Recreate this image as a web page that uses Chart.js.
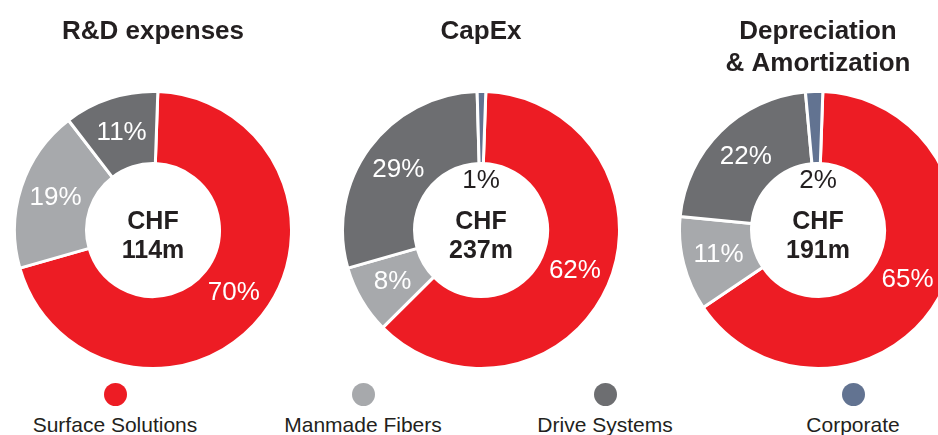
<!DOCTYPE html>
<html>
<head>
<meta charset="utf-8">
<script src="https://cdn.jsdelivr.net/npm/chart.js@4.4.1/dist/chart.umd.min.js"></script>
<style>
  html, body { margin: 0; padding: 0; background: #fff; }
  body {
    width: 938px; height: 435px; position: relative; overflow: hidden;
    font-family: "Liberation Sans", Arial, sans-serif;
  }
  .box { position: absolute; top: 0; width: 280px; height: 370px; }
  .box canvas { display: block; }
  .leg {
    position: absolute; top: 383px; width: 240px; margin-left: -120px;
    text-align: center; color: #231F20; font-size: 21px;
  }
  .leg .dot { width: 23px; height: 23px; border-radius: 50%; margin: 0 auto; }
  .leg .txt { margin-top: 7px; line-height: 24px; white-space: nowrap; }
</style>
</head>
<body>
<div class="box" style="left:13px"><canvas id="rdChart" width="280" height="370"></canvas></div>
<div class="box" style="left:341px"><canvas id="capexChart" width="280" height="370"></canvas></div>
<div class="box" style="left:678px"><canvas id="daChart" width="280" height="370"></canvas></div>
<div id="legend"></div>

<script>
// data
const categories = ["Surface Solutions", "Manmade Fibers", "Drive Systems", "Corporate"];
const colors = ["#ED1C24", "#A7A9AC", "#6D6E71", "#627391"];

const rdValues = [70, 19, 11, 0];
const capexValues = [62, 8, 29, 1];
const daValues = [65, 11, 22, 2];

const rdTitle = ["R&D expenses"];
const capexTitle = ["CapEx"];
const daTitle = ["Depreciation", "& Amortization"];

const rdTotal = ["CHF", "114m"];
const capexTotal = ["CHF", "237m"];
const daTotal = ["CHF", "191m"];

// legend x centres (layout)
const legendX = [115, 363, 605, 853];

const FONT = "'Liberation Sans', Arial, sans-serif";
const DARK = "#231F20";

// percent labels on the slices + total in the hole
const sliceLabels = {
  id: "sliceLabels",
  afterDatasetsDraw(chart, args, opts) {
    const ctx = chart.ctx;
    const meta = chart.getDatasetMeta(0);
    const values = chart.data.datasets[0].data;
    const first = meta.data[0];
    ctx.save();
    ctx.textAlign = "center";
    ctx.textBaseline = "middle";
    ctx.font = "26px " + FONT;
    meta.data.forEach((arc, i) => {
      const v = values[i];
      if (!v) return;
      if (v < 5) {
        // small slice: label sits inside the hole
        ctx.fillStyle = DARK;
        ctx.fillText(v + "%", arc.x, arc.y - 49);
      } else {
        const p = arc.tooltipPosition();
        ctx.fillStyle = "#FFFFFF";
        ctx.fillText(v + "%", p.x, p.y);
      }
    });
    ctx.font = "bold 25px " + FONT;
    ctx.fillStyle = DARK;
    ctx.fillText(opts.lines[0], first.x, first.y - 8);
    ctx.fillText(opts.lines[1], first.x, first.y + 21);
    ctx.restore();
  },
};

function makeDoughnut(id, values, title, total, titleBottom) {
  return new Chart(document.getElementById(id), {
    type: "doughnut",
    data: {
      labels: categories,
      datasets: [
        {
          data: values,
          backgroundColor: colors,
          borderColor: "#FFFFFF",
          borderWidth: 3,
          hoverOffset: 0,
        },
      ],
    },
    options: {
      responsive: false,
      animation: false,
      events: [],
      rotation: 2,
      cutout: "48%",
      plugins: {
        legend: { display: false },
        tooltip: { enabled: false },
        title: {
          display: true,
          text: title,
          color: DARK,
          font: { family: FONT, size: 26, weight: "bold", lineHeight: "32px" },
          padding: { top: 16, bottom: titleBottom },
        },
        sliceLabels: { lines: total },
      },
    },
    plugins: [sliceLabels],
  });
}

makeDoughnut("rdChart", rdValues, rdTitle, rdTotal, 42);
makeDoughnut("capexChart", capexValues, capexTitle, capexTotal, 42);
makeDoughnut("daChart", daValues, daTitle, daTotal, 10);

// legend below the charts
const legendBox = document.getElementById("legend");
categories.forEach((name, i) => {
  const item = document.createElement("div");
  item.className = "leg";
  item.style.left = legendX[i] + "px";
  const dot = document.createElement("div");
  dot.className = "dot";
  dot.style.background = colors[i];
  const txt = document.createElement("div");
  txt.className = "txt";
  txt.textContent = name;
  item.appendChild(dot);
  item.appendChild(txt);
  legendBox.appendChild(item);
});
</script>
</body>
</html>
